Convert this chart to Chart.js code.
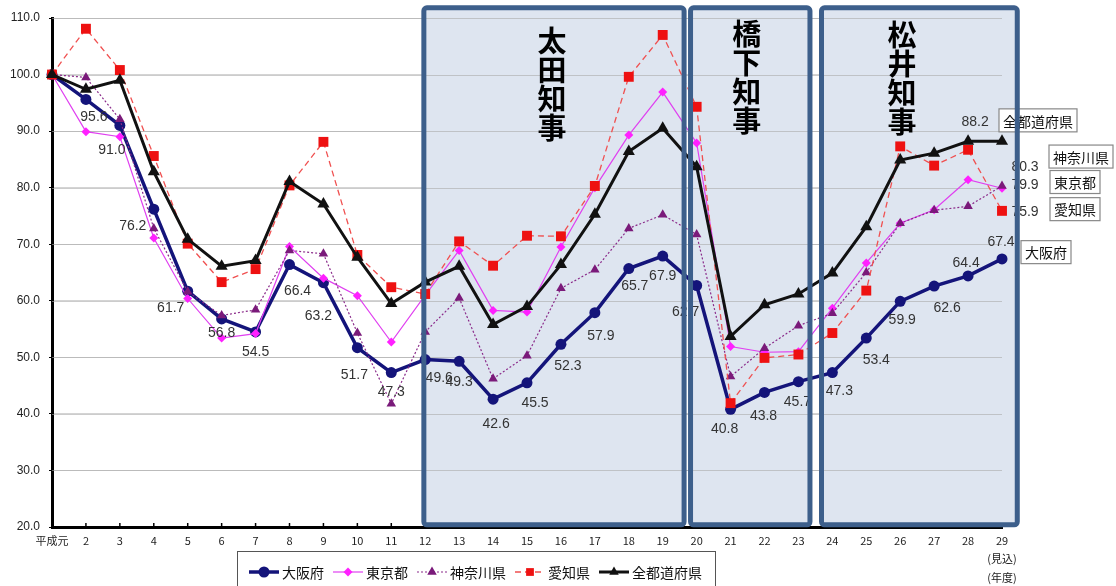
<!DOCTYPE html>
<html lang="ja">
<head>
<meta charset="UTF-8">
<title>財政力の推移</title>
<script src="https://cdn.jsdelivr.net/npm/chart.js"></script>
<style>
    html, body {
        margin: 0;
        padding: 0;
        background: #ffffff;
        overflow: hidden;
    }
    .chart-box {
        position: relative;
        width: 1116px;
        height: 586px;
    }
</style>
</head>
<body>
<div class="chart-box"><canvas id="chart"></canvas></div>
<script>
// 年度 (x axis)
const years = ['平成元', '2', '3', '4', '5', '6', '7', '8', '9', '10', '11', '12', '13', '14', '15',
    '16', '17', '18', '19', '20', '21', '22', '23', '24', '25', '26', '27', '28', ['29', '(見込)', '(年度)']];

// series values (平成元 = 100)
const osaka    = [100, 95.6, 91.0, 76.2, 61.7, 56.8, 54.5, 66.4, 63.2, 51.7, 47.3, 49.6, 49.3, 42.6, 45.5,
    52.3, 57.9, 65.7, 67.9, 62.7, 40.8, 43.8, 45.7, 47.3, 53.4, 59.9, 62.6, 64.4, 67.4];
const tokyo    = [100, 89.9, 89.0, 71.1, 60.4, 53.4, 54.2, 69.6, 64.0, 60.9, 52.7, 61.0, 68.9, 58.3, 58.0,
    69.5, 80.0, 89.3, 96.9, 87.9, 51.9, 50.9, 51.0, 58.7, 66.7, 73.7, 76.1, 81.4, 79.9];
const kanagawa = [100, 99.5, 92.1, 72.8, 61.6, 57.4, 58.4, 68.9, 68.3, 54.3, 41.8, 54.5, 60.5, 46.2, 50.3,
    62.2, 65.5, 72.8, 75.2, 71.7, 46.6, 51.6, 55.6, 57.8, 65.0, 73.7, 76.0, 76.7, 80.3];
const aichi    = [100, 108.1, 100.8, 85.6, 70.1, 63.3, 65.6, 80.4, 88.1, 68.1, 62.4, 61.2, 70.5, 66.2, 71.5,
    71.4, 80.3, 99.6, 107.0, 94.3, 41.9, 49.9, 50.5, 54.3, 61.8, 87.3, 83.9, 86.7, 75.9];
const allPref  = [100, 97.4, 99.0, 82.8, 70.9, 66.1, 67.1, 81.1, 77.1, 67.7, 59.5, 63.3, 66.1, 55.8, 59.0,
    66.4, 75.3, 86.4, 90.5, 83.7, 53.7, 59.3, 61.2, 64.9, 73.1, 84.9, 86.1, 88.2, 88.2];

// y axis ticks
const yMin = 20, yMax = 110, yStep = 10;

// governor periods (category index range)
const governors = [
    { name: '太田知事', from: 10.96, to: 18.63, textAt: 14.74, textTop: 23 },
    { name: '橋下知事', from: 18.82, to: 22.34, textAt: 20.48, textTop: 16 },
    { name: '松井知事', from: 22.68, to: 28.45, textAt: 25.05, textTop: 17 }
];

// where the 大阪府 value labels sit relative to their point [dx, dy]
const osakaLabelOffsets = [null, [8, 18], [-8, 25], [-21, 17], [-17, 17], [0, 14], [0, 20], [8, 27], [-5, 33],
    [-3, 27], [0, 20], [14, 19], [0, 21], [3, 25], [8, 20], [7, 22], [6, 23], [6, 18], [0, 20], [-11, 27],
    [-6, 20], [-1, 24], [-1, 20], [7, 19], [10, 22], [2, 19], [13, 22], [-2, -13], [-1, -17]];

// boxed series names at the right: [name, dx from plot right, y value]
const sideNames = [
    ['全都道府県', 36, 91.9],
    ['神奈川県', 79, 85.5],
    ['東京都', 73, 81.0],
    ['愛知県', 73, 76.2],
    ['大阪府', 44, 68.6]
];

const CJK = '"Noto Sans CJK JP", "Noto Sans", sans-serif';
const NUM = '"Liberation Sans", Arial, sans-serif';

function drawMarker(ctx, style, x, y, r) {
    ctx.beginPath();
    if (style === 'circle') {
        ctx.arc(x, y, r, 0, Math.PI * 2);
    } else if (style === 'rect') {
        const s = r * Math.SQRT1_2;
        ctx.rect(x - s, y - s, s * 2, s * 2);
    } else if (style === 'rectRot') {
        ctx.moveTo(x, y - r); ctx.lineTo(x + r, y); ctx.lineTo(x, y + r); ctx.lineTo(x - r, y);
        ctx.closePath();
    } else {
        ctx.moveTo(x, y - r); ctx.lineTo(x + r * 0.866, y + r * 0.5); ctx.lineTo(x - r * 0.866, y + r * 0.5);
        ctx.closePath();
    }
    ctx.fill();
}

const extras = {
    id: 'extras',
    beforeDatasetsDraw(chart) {
        const ctx = chart.ctx, x = chart.scales.x, y = chart.scales.y;
        ctx.save();
        ctx.fillStyle = '#dee5f0';
        governors.forEach(g => {
            const l = x.getPixelForValue(g.from), r = x.getPixelForValue(g.to);
            const t = y.getPixelForValue(111.8), b = y.getPixelForValue(20.4);
            ctx.fillRect(l, t, r - l, b - t);
        });
        // redraw faint grid over fill
        ctx.strokeStyle = 'rgba(170,170,170,0.6)';
        ctx.lineWidth = 1;
        for (let v = yMin + yStep; v <= yMax; v += yStep) {
            const py = Math.round(y.getPixelForValue(v)) + 0.5;
            ctx.beginPath();
            ctx.moveTo(chart.chartArea.left, py);
            ctx.lineTo(chart.chartArea.right, py);
            ctx.stroke();
        }
        // small inward ticks on x axis
        ctx.strokeStyle = '#000';
        ctx.lineWidth = 1.5;
        years.forEach((_, i) => {
            const px = x.getPixelForValue(i);
            ctx.beginPath();
            ctx.moveTo(px, chart.chartArea.bottom);
            ctx.lineTo(px, chart.chartArea.bottom - 4);
            ctx.stroke();
        });
        ctx.restore();
    },
    afterDraw(chart) {
        const ctx = chart.ctx, x = chart.scales.x, y = chart.scales.y, area = chart.chartArea;
        ctx.save();

        // value labels
        ctx.font = '14px ' + NUM;
        ctx.fillStyle = '#333';
        ctx.textAlign = 'center';
        ctx.textBaseline = 'middle';
        osaka.forEach((v, i) => {
            const o = osakaLabelOffsets[i];
            if (!o) return;
            ctx.fillText(v.toFixed(1), x.getPixelForValue(i) + o[0], y.getPixelForValue(v) + o[1]);
        });
        const last = years.length - 1;
        ctx.fillText(allPref[last - 1].toFixed(1), x.getPixelForValue(last - 1) + 7, y.getPixelForValue(allPref[last - 1]) - 19);
        ctx.fillText(kanagawa[last].toFixed(1), x.getPixelForValue(last) + 23, y.getPixelForValue(kanagawa[last]) - 19);
        ctx.fillText(tokyo[last].toFixed(1), x.getPixelForValue(last) + 23, y.getPixelForValue(tokyo[last]) - 3);
        ctx.fillText(aichi[last].toFixed(1), x.getPixelForValue(last) + 23, y.getPixelForValue(aichi[last]) + 1);

        // boxed names at the right
        ctx.font = '14px ' + CJK;
        sideNames.forEach(([name, dx, v]) => {
            const cx = area.right + dx, cy = y.getPixelForValue(v);
            const w = ctx.measureText(name).width + 8, h = 23;
            ctx.fillStyle = '#fff';
            ctx.fillRect(cx - w / 2, cy - h / 2, w, h);
            ctx.strokeStyle = '#888';
            ctx.lineWidth = 1.2;
            ctx.strokeRect(cx - w / 2, cy - h / 2, w, h);
            ctx.fillStyle = '#111';
            ctx.fillText(name, cx, cy + 1);
        });

        // governor boxes and names
        governors.forEach(g => {
            const l = x.getPixelForValue(g.from), r = x.getPixelForValue(g.to);
            const t = y.getPixelForValue(111.8), b = y.getPixelForValue(20.4);
            ctx.strokeStyle = '#3d5f8b';
            ctx.lineWidth = 5;
            ctx.beginPath();
            ctx.roundRect(l, t, r - l, b - t, 3);
            ctx.stroke();
            ctx.fillStyle = '#000';
            ctx.font = 'bold 29px ' + CJK;
            [...g.name].forEach((ch, k) => {
                ctx.fillText(ch, x.getPixelForValue(g.textAt), area.top + g.textTop + k * 29);
            });
        });

        // legend
        const lx0 = 237, lx1 = 715, ly0 = 551, ly = 572;
        ctx.fillStyle = '#fff';
        ctx.fillRect(lx0, ly0, lx1 - lx0, 40);
        ctx.strokeStyle = '#555';
        ctx.lineWidth = 1;
        ctx.strokeRect(lx0 + 0.5, ly0 + 0.5, lx1 - lx0, 40);
        ctx.font = '14px ' + CJK;
        ctx.textAlign = 'left';
        let px = 249;
        chart.data.datasets.forEach(ds => {
            ctx.strokeStyle = ds.borderColor;
            ctx.lineWidth = ds.borderWidth;
            ctx.setLineDash(ds.borderDash || []);
            ctx.beginPath();
            ctx.moveTo(px, ly);
            ctx.lineTo(px + 30, ly);
            ctx.stroke();
            ctx.setLineDash([]);
            ctx.fillStyle = ds.pointBackgroundColor;
            drawMarker(ctx, ds.pointStyle, px + 15, ly, Math.min(ds.pointRadius, 5.5));
            ctx.fillStyle = '#111';
            ctx.fillText(ds.label, px + 33, ly + 1);
            px += 33 + ctx.measureText(ds.label).width + 9;
        });
        ctx.restore();
    }
};

new Chart(document.getElementById('chart'), {
    type: 'line',
    data: {
        labels: years,
        datasets: [
            {
                label: '大阪府', data: osaka, order: 4,
                borderColor: '#14147a', borderWidth: 3.5,
                pointStyle: 'circle', pointRadius: 5.5, pointBackgroundColor: '#14147a', pointBorderWidth: 0
            },
            {
                label: '東京都', data: tokyo, order: 3,
                borderColor: '#e040f0', borderWidth: 1.2,
                pointStyle: 'rectRot', pointRadius: 4.5, pointBackgroundColor: '#ff20ff', pointBorderWidth: 0
            },
            {
                label: '神奈川県', data: kanagawa, order: 2,
                borderColor: '#8a2a8a', borderWidth: 1.2, borderDash: [2, 2],
                pointStyle: 'triangle', pointRadius: 5.5, pointBackgroundColor: '#7a1a7a', pointBorderWidth: 0
            },
            {
                label: '愛知県', data: aichi, order: 1,
                borderColor: '#f05050', borderWidth: 1.3, borderDash: [6, 4],
                pointStyle: 'rect', pointRadius: 7, pointBackgroundColor: '#ee1111', pointBorderWidth: 0
            },
            {
                label: '全都道府県', data: allPref, order: 0,
                borderColor: '#111', borderWidth: 3,
                pointStyle: 'triangle', pointRadius: 7, pointBackgroundColor: '#111', pointBorderWidth: 0
            }
        ]
    },
    options: {
        responsive: true,
        maintainAspectRatio: false,
        animation: false,
        clip: false,
        layout: { padding: { top: 18, right: 114, left: 0, bottom: 0 } },
        elements: { line: { tension: 0 } },
        plugins: {
            legend: { display: false },
            tooltip: { enabled: false }
        },
        scales: {
            x: {
                offset: false,
                afterFit: s => { s.height = 59; },
                grid: { display: false, drawTicks: false },
                border: { display: true, color: '#000', width: 3 },
                ticks: {
                    autoSkip: false, maxRotation: 0, padding: 4,
                    color: '#222', font: { family: CJK, size: 11, lineHeight: 1.7 }
                }
            },
            y: {
                min: yMin, max: yMax,
                afterFit: s => { s.width = 52; },
                grid: { color: '#d4d4d4', tickColor: '#000', tickLength: 3 },
                border: { display: true, color: '#000', width: 3 },
                ticks: {
                    stepSize: yStep, padding: 9, color: '#222',
                    font: { family: NUM, size: 12 },
                    callback: v => v.toFixed(1)
                }
            }
        }
    },
    plugins: [extras]
});
</script>
</body>
</html>
